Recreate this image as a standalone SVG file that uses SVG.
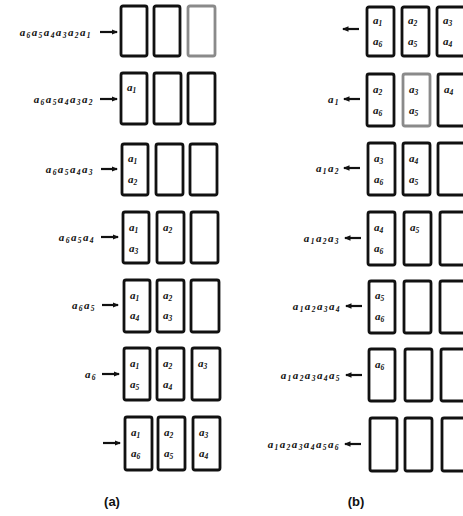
<svg xmlns="http://www.w3.org/2000/svg" width="463" height="516" viewBox="0 0 463 516">
<style>
.bx{fill:none;stroke:#111;stroke-width:2.8}
.gy{fill:none;stroke:#8a8a8a;stroke-width:2.8}
.t{font-family:"Liberation Serif",serif;font-style:italic;font-weight:bold;font-size:11px;fill:#111}
.s{font-size:7.5px}
.lb{letter-spacing:1.4px}
.cap{font-family:"Liberation Sans",sans-serif;font-weight:bold;font-size:13px;fill:#111}
.ar{stroke:#111;stroke-width:2.2;fill:none}
</style>
<defs>
<marker id="ah" viewBox="0 0 6 6" refX="5" refY="3" markerWidth="3" markerHeight="3" orient="auto" markerUnits="strokeWidth">
<path d="M0,0.5 L6,3 L0,5.5 z" fill="#111"/>
</marker>
</defs>
<rect width="463" height="516" fill="#fff"/>

<g id="connectors">
<line class="ar" x1="100" y1="32" x2="117" y2="32" marker-end="url(#ah)"/>
<line class="ar" x1="100" y1="99" x2="117" y2="99" marker-end="url(#ah)"/>
<line class="ar" x1="101" y1="169" x2="117" y2="169" marker-end="url(#ah)"/>
<line class="ar" x1="101" y1="237" x2="118" y2="237" marker-end="url(#ah)"/>
<line class="ar" x1="102" y1="305" x2="118" y2="305" marker-end="url(#ah)"/>
<line class="ar" x1="102" y1="374" x2="119" y2="374" marker-end="url(#ah)"/>
<line class="ar" x1="103" y1="443" x2="120" y2="443" marker-end="url(#ah)"/>

<line class="ar" x1="359" y1="29" x2="343" y2="29" marker-end="url(#ah)"/>
<line class="ar" x1="360" y1="99" x2="344" y2="99" marker-end="url(#ah)"/>
<line class="ar" x1="360" y1="168" x2="344" y2="168" marker-end="url(#ah)"/>
<line class="ar" x1="361" y1="238" x2="345" y2="238" marker-end="url(#ah)"/>
<line class="ar" x1="362" y1="306" x2="346" y2="306" marker-end="url(#ah)"/>
<line class="ar" x1="362" y1="375" x2="346" y2="375" marker-end="url(#ah)"/>
<line class="ar" x1="361" y1="444" x2="345" y2="444" marker-end="url(#ah)"/>
</g>

<g id="labels-a">
<text class="t lb" x="92" y="36" text-anchor="end">a<tspan class="s" dy="2">6</tspan><tspan dy="-2">a</tspan><tspan class="s" dy="2">5</tspan><tspan dy="-2">a</tspan><tspan class="s" dy="2">4</tspan><tspan dy="-2">a</tspan><tspan class="s" dy="2">3</tspan><tspan dy="-2">a</tspan><tspan class="s" dy="2">2</tspan><tspan dy="-2">a</tspan><tspan class="s" dy="2">1</tspan></text>
<text class="t lb" x="94" y="103" text-anchor="end">a<tspan class="s" dy="2">6</tspan><tspan dy="-2">a</tspan><tspan class="s" dy="2">5</tspan><tspan dy="-2">a</tspan><tspan class="s" dy="2">4</tspan><tspan dy="-2">a</tspan><tspan class="s" dy="2">3</tspan><tspan dy="-2">a</tspan><tspan class="s" dy="2">2</tspan></text>
<text class="t lb" x="94" y="173" text-anchor="end">a<tspan class="s" dy="2">6</tspan><tspan dy="-2">a</tspan><tspan class="s" dy="2">5</tspan><tspan dy="-2">a</tspan><tspan class="s" dy="2">4</tspan><tspan dy="-2">a</tspan><tspan class="s" dy="2">3</tspan></text>
<text class="t lb" x="95" y="241" text-anchor="end">a<tspan class="s" dy="2">6</tspan><tspan dy="-2">a</tspan><tspan class="s" dy="2">5</tspan><tspan dy="-2">a</tspan><tspan class="s" dy="2">4</tspan></text>
<text class="t lb" x="96" y="309" text-anchor="end">a<tspan class="s" dy="2">6</tspan><tspan dy="-2">a</tspan><tspan class="s" dy="2">5</tspan></text>
<text class="t lb" x="97" y="378" text-anchor="end">a<tspan class="s" dy="2">6</tspan></text>
</g>

<g id="labels-b">
<text class="t lb" x="340" y="103" text-anchor="end">a<tspan class="s" dy="2">1</tspan></text>
<text class="t lb" x="340" y="172" text-anchor="end">a<tspan class="s" dy="2">1</tspan><tspan dy="-2">a</tspan><tspan class="s" dy="2">2</tspan></text>
<text class="t lb" x="340" y="242" text-anchor="end">a<tspan class="s" dy="2">1</tspan><tspan dy="-2">a</tspan><tspan class="s" dy="2">2</tspan><tspan dy="-2">a</tspan><tspan class="s" dy="2">3</tspan></text>
<text class="t lb" x="341" y="310" text-anchor="end">a<tspan class="s" dy="2">1</tspan><tspan dy="-2">a</tspan><tspan class="s" dy="2">2</tspan><tspan dy="-2">a</tspan><tspan class="s" dy="2">3</tspan><tspan dy="-2">a</tspan><tspan class="s" dy="2">4</tspan></text>
<text class="t lb" x="341" y="379" text-anchor="end">a<tspan class="s" dy="2">1</tspan><tspan dy="-2">a</tspan><tspan class="s" dy="2">2</tspan><tspan dy="-2">a</tspan><tspan class="s" dy="2">3</tspan><tspan dy="-2">a</tspan><tspan class="s" dy="2">4</tspan><tspan dy="-2">a</tspan><tspan class="s" dy="2">5</tspan></text>
<text class="t lb" x="340" y="448" text-anchor="end">a<tspan class="s" dy="2">1</tspan><tspan dy="-2">a</tspan><tspan class="s" dy="2">2</tspan><tspan dy="-2">a</tspan><tspan class="s" dy="2">3</tspan><tspan dy="-2">a</tspan><tspan class="s" dy="2">4</tspan><tspan dy="-2">a</tspan><tspan class="s" dy="2">5</tspan><tspan dy="-2">a</tspan><tspan class="s" dy="2">6</tspan></text>
</g>

<g id="a-row1">
<rect class="bx" x="121" y="6" width="26" height="50" rx="2"/>
<rect class="bx" x="154" y="6" width="26" height="50" rx="2"/>
<rect class="gy" x="188" y="6" width="27" height="50" rx="2"/>
</g>
<g id="a-row2">
<rect class="bx" x="121" y="73" width="26" height="51" rx="2"/>
<rect class="bx" x="154" y="73" width="27" height="51" rx="2"/>
<rect class="bx" x="188" y="73" width="27" height="51" rx="2"/>
<text class="t" x="127" y="91">a<tspan class="s" dy="2">1</tspan></text>
</g>
<g id="a-row3">
<rect class="bx" x="122" y="144" width="26" height="51" rx="2"/>
<rect class="bx" x="156" y="144" width="27" height="51" rx="2"/>
<rect class="bx" x="190" y="144" width="27" height="51" rx="2"/>
<text class="t" x="128" y="162">a<tspan class="s" dy="2">1</tspan></text>
<text class="t" x="128" y="183">a<tspan class="s" dy="2">2</tspan></text>
</g>
<g id="a-row4">
<rect class="bx" x="123" y="212" width="26" height="51" rx="2"/>
<rect class="bx" x="157" y="212" width="27" height="51" rx="2"/>
<rect class="bx" x="191" y="212" width="27" height="51" rx="2"/>
<text class="t" x="129" y="231">a<tspan class="s" dy="2">1</tspan></text>
<text class="t" x="129" y="252">a<tspan class="s" dy="2">3</tspan></text>
<text class="t" x="163" y="231">a<tspan class="s" dy="2">2</tspan></text>
</g>
<g id="a-row5">
<rect class="bx" x="124" y="280" width="26" height="52" rx="2"/>
<rect class="bx" x="157" y="280" width="27" height="52" rx="2"/>
<rect class="bx" x="191" y="280" width="28" height="52" rx="2"/>
<text class="t" x="130" y="299">a<tspan class="s" dy="2">1</tspan></text>
<text class="t" x="130" y="319">a<tspan class="s" dy="2">4</tspan></text>
<text class="t" x="163" y="299">a<tspan class="s" dy="2">2</tspan></text>
<text class="t" x="163" y="319">a<tspan class="s" dy="2">3</tspan></text>
</g>
<g id="a-row6">
<rect class="bx" x="124" y="348" width="26" height="52" rx="2"/>
<rect class="bx" x="157" y="348" width="27" height="52" rx="2"/>
<rect class="bx" x="192" y="348" width="28" height="52" rx="2"/>
<text class="t" x="130" y="367">a<tspan class="s" dy="2">1</tspan></text>
<text class="t" x="130" y="388">a<tspan class="s" dy="2">5</tspan></text>
<text class="t" x="163" y="367">a<tspan class="s" dy="2">2</tspan></text>
<text class="t" x="163" y="388">a<tspan class="s" dy="2">4</tspan></text>
<text class="t" x="198" y="367">a<tspan class="s" dy="2">3</tspan></text>
</g>
<g id="a-row7">
<rect class="bx" x="125" y="417" width="27" height="53" rx="2"/>
<rect class="bx" x="158" y="417" width="27" height="53" rx="2"/>
<rect class="bx" x="193" y="417" width="27" height="53" rx="2"/>
<text class="t" x="131" y="436">a<tspan class="s" dy="2">1</tspan></text>
<text class="t" x="131" y="457">a<tspan class="s" dy="2">6</tspan></text>
<text class="t" x="164" y="436">a<tspan class="s" dy="2">2</tspan></text>
<text class="t" x="164" y="457">a<tspan class="s" dy="2">5</tspan></text>
<text class="t" x="199" y="436">a<tspan class="s" dy="2">3</tspan></text>
<text class="t" x="199" y="457">a<tspan class="s" dy="2">4</tspan></text>
</g>

<g id="b-row1">
<rect class="bx" x="367" y="7" width="27" height="49" rx="2"/>
<rect class="bx" x="402" y="7" width="27" height="49" rx="2"/>
<rect class="bx" x="437" y="7" width="28" height="49" rx="2"/>
<text class="t" x="373" y="24">a<tspan class="s" dy="2">1</tspan></text>
<text class="t" x="373" y="45">a<tspan class="s" dy="2">6</tspan></text>
<text class="t" x="408" y="24">a<tspan class="s" dy="2">2</tspan></text>
<text class="t" x="408" y="45">a<tspan class="s" dy="2">5</tspan></text>
<text class="t" x="443" y="24">a<tspan class="s" dy="2">3</tspan></text>
<text class="t" x="443" y="45">a<tspan class="s" dy="2">4</tspan></text>
</g>
<g id="b-row2">
<rect class="bx" x="367" y="74" width="27" height="52" rx="2"/>
<rect class="gy" x="403" y="74" width="27" height="52" rx="2"/>
<rect class="bx" x="438" y="74" width="28" height="52" rx="2"/>
<text class="t" x="373" y="93">a<tspan class="s" dy="2">2</tspan></text>
<text class="t" x="373" y="114">a<tspan class="s" dy="2">6</tspan></text>
<text class="t" x="409" y="93">a<tspan class="s" dy="2">3</tspan></text>
<text class="t" x="409" y="114">a<tspan class="s" dy="2">5</tspan></text>
<text class="t" x="444" y="93">a<tspan class="s" dy="2">4</tspan></text>
</g>
<g id="b-row3">
<rect class="bx" x="368" y="143" width="27" height="52" rx="2"/>
<rect class="bx" x="403" y="143" width="27" height="52" rx="2"/>
<rect class="bx" x="438" y="143" width="28" height="52" rx="2"/>
<text class="t" x="374" y="162">a<tspan class="s" dy="2">3</tspan></text>
<text class="t" x="374" y="183">a<tspan class="s" dy="2">6</tspan></text>
<text class="t" x="409" y="162">a<tspan class="s" dy="2">4</tspan></text>
<text class="t" x="409" y="183">a<tspan class="s" dy="2">5</tspan></text>
</g>
<g id="b-row4">
<rect class="bx" x="368" y="212" width="27" height="53" rx="2"/>
<rect class="bx" x="404" y="212" width="27" height="53" rx="2"/>
<rect class="bx" x="440" y="212" width="28" height="53" rx="2"/>
<text class="t" x="374" y="231">a<tspan class="s" dy="2">4</tspan></text>
<text class="t" x="374" y="252">a<tspan class="s" dy="2">6</tspan></text>
<text class="t" x="410" y="231">a<tspan class="s" dy="2">5</tspan></text>
</g>
<g id="b-row5">
<rect class="bx" x="369" y="281" width="26" height="52" rx="2"/>
<rect class="bx" x="404" y="281" width="27" height="52" rx="2"/>
<rect class="bx" x="440" y="281" width="28" height="52" rx="2"/>
<text class="t" x="375" y="299">a<tspan class="s" dy="2">5</tspan></text>
<text class="t" x="375" y="320">a<tspan class="s" dy="2">6</tspan></text>
</g>
<g id="b-row6">
<rect class="bx" x="369" y="349" width="26" height="52" rx="2"/>
<rect class="bx" x="405" y="349" width="27" height="52" rx="2"/>
<rect class="bx" x="441" y="349" width="28" height="52" rx="2"/>
<text class="t" x="375" y="368">a<tspan class="s" dy="2">6</tspan></text>
</g>
<g id="b-row7">
<rect class="bx" x="370" y="418" width="27" height="53" rx="2"/>
<rect class="bx" x="405" y="418" width="27" height="53" rx="2"/>
<rect class="bx" x="442" y="418" width="28" height="53" rx="2"/>
</g>

<g id="captions">
<text class="cap" x="112" y="506" text-anchor="middle">(a)</text>
<text class="cap" x="356" y="506" text-anchor="middle">(b)</text>
</g>
</svg>
